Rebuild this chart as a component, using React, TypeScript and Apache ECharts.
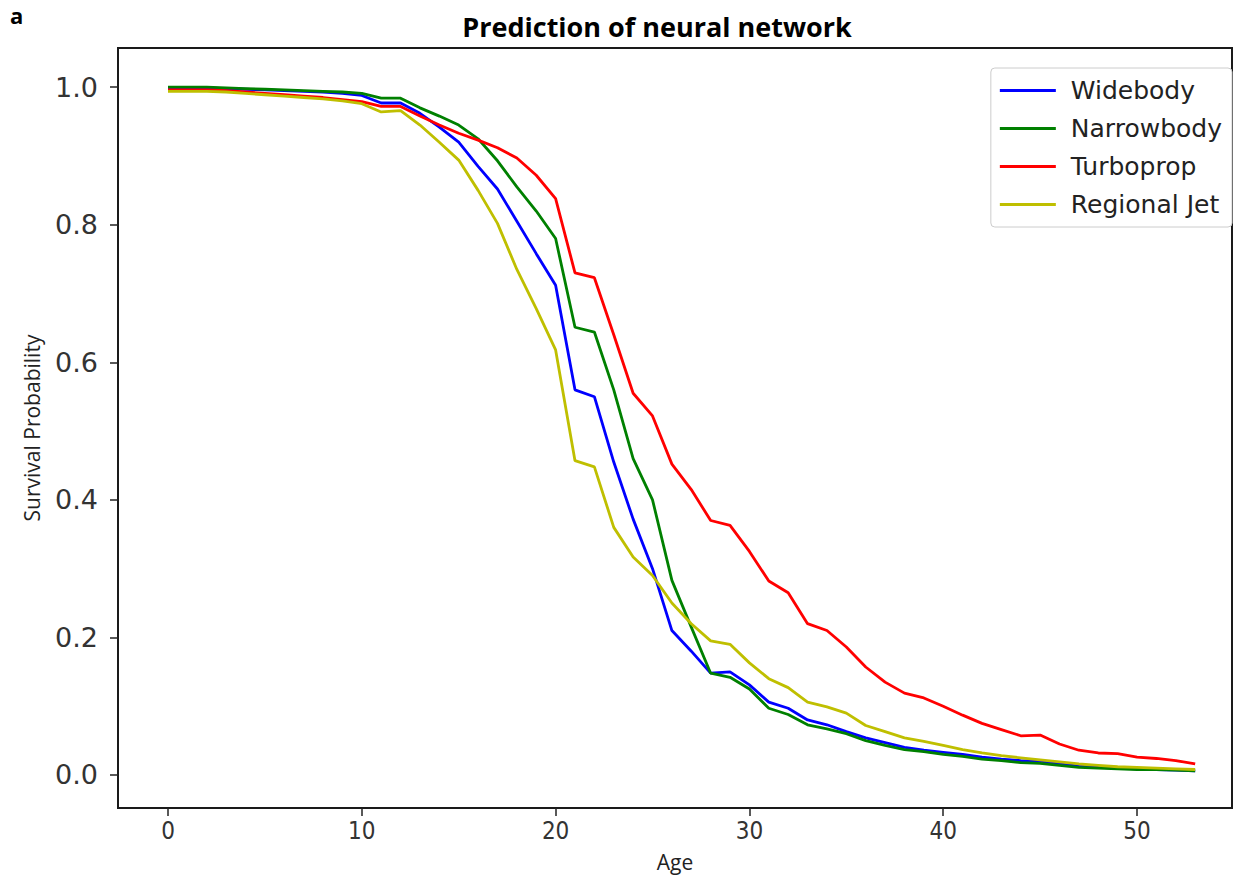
import React, { useEffect, useRef } from "react";
import * as echarts from "echarts";

const ages = [0,1,2,3,4,5,6,7,8,9,10,11,12,13,14,15,16,17,18,19,20,21,22,23,24,25,26,27,28,29,30,31,32,33,34,35,36,37,38,39,40,41,42,43,44,45,46,47,48,49,50,51,52,53];

const widebody = [0.999,0.999,0.999,0.998,0.997,0.996,0.995,0.994,0.993,0.991,0.988,0.977,0.977,
  0.962,0.942,0.920,0.885,0.852,0.805,0.758,0.712,
  0.560,0.550,0.455,0.372,0.300,0.210,0.180,0.148,0.150,0.131,
  0.106,0.097,0.080,0.073,0.063,0.054,0.047,0.040,0.036,0.033,
  0.030,0.026,0.023,0.021,0.020,0.016,0.013,0.011,0.010,0.009,0.008,0.007,0.006];

const narrowbody = [1.000,1.000,1.000,0.999,0.998,0.997,0.996,0.995,0.994,0.993,0.991,0.984,0.984,
  0.970,0.958,0.945,0.925,0.893,0.855,0.820,0.780,
  0.651,0.644,0.560,0.460,0.400,0.283,0.215,0.148,0.142,0.125,
  0.097,0.088,0.073,0.067,0.060,0.050,0.043,0.037,0.034,0.030,
  0.027,0.023,0.021,0.018,0.017,0.014,0.011,0.010,0.009,0.008,0.008,0.007,0.006];

const turboprop = [0.996,0.996,0.996,0.995,0.993,0.991,0.989,0.987,0.985,0.982,0.979,0.972,0.972,
  0.958,0.945,0.933,0.923,0.912,0.897,0.872,0.838,
  0.730,0.723,0.640,0.555,0.522,0.452,0.415,0.370,0.363,0.325,
  0.282,0.265,0.220,0.210,0.186,0.157,0.135,0.119,0.112,0.100,
  0.087,0.075,0.066,0.057,0.058,0.045,0.036,0.032,0.031,0.026,0.024,0.021,0.016];

const regionalJet = [0.994,0.994,0.994,0.993,0.991,0.989,0.987,0.985,0.983,0.980,0.976,0.964,0.966,
  0.945,0.920,0.894,0.850,0.802,0.735,0.678,0.618,
  0.457,0.448,0.360,0.317,0.290,0.250,0.220,0.195,0.190,0.163,
  0.140,0.127,0.106,0.099,0.090,0.072,0.063,0.054,0.049,0.043,
  0.037,0.032,0.028,0.025,0.022,0.019,0.016,0.014,0.012,0.011,0.010,0.009,0.008];

const seriesNames = ["Widebody", "Narrowbody", "Turboprop", "Regional Jet"];
const seriesColors = ["#0000ff", "#008000", "#ff0000", "#bfbf00"];
const xTicks = [0, 10, 20, 30, 40, 50];
const yTicks = [0, 0.2, 0.4, 0.6, 0.8, 1.0];

export default function App() {
  const ref = useRef<HTMLDivElement>(null);
  useEffect(() => {
    if (!ref.current) return;
    const chart = echarts.init(ref.current, undefined, { renderer: "svg" });
    const values = [widebody, narrowbody, turboprop, regionalJet];
    const tickFont = "'DejaVu Sans', sans-serif";
    chart.setOption({
      animation: false,
      backgroundColor: "#ffffff",
      grid: {
        left: 118,
        top: 48,
        right: 2,
        height: 760,
        show: true,
        borderColor: "#1a1a1a",
        borderWidth: 2,
        backgroundColor: "transparent",
      },
      graphic: [
        {
          type: "text",
          left: 10,
          top: 4,
          style: { text: "a", font: "bold 22px 'Open Sans', sans-serif", fill: "#000" },
        },
        {
          type: "text",
          x: 657,
          y: 26,
          style: {
            text: "Prediction of neural network",
            font: "bold 27px 'Open Sans', sans-serif",
            fill: "#000",
            textAlign: "center",
            textVerticalAlign: "middle",
          },
        },
      ],
      legend: {
        orient: "vertical",
        right: 2,
        top: 68,
        icon: "rect",
        itemWidth: 56,
        itemHeight: 3,
        itemGap: 9,
        padding: [8, 10, 8, 9],
        borderColor: "#cccccc",
        borderWidth: 1,
        borderRadius: 4,
        backgroundColor: "#ffffff",
        textStyle: { fontFamily: tickFont, fontSize: 25, color: "#222", lineHeight: 29, padding: [0, 0, 0, 10] },
        data: seriesNames,
      },
      xAxis: {
        type: "value",
        min: -2.58,
        max: 54.9,
        name: "Age",
        nameLocation: "middle",
        nameGap: 43,
        nameTextStyle: { fontFamily: "'Open Sans', sans-serif", fontSize: 21, color: "#222" },
        axisLine: { show: true, onZero: false, lineStyle: { color: "#1a1a1a", width: 2 } },
        axisTick: { show: true, length: 8, customValues: xTicks, lineStyle: { color: "#222", width: 1.5 } },
        axisLabel: {
          customValues: xTicks,
          fontFamily: "'Liberation Sans Narrow', 'DejaVu Sans Condensed', sans-serif",
          fontSize: 24,
          color: "#333",
          margin: 11,
        },
        splitLine: { show: false },
      },
      yAxis: {
        type: "value",
        min: -0.048,
        max: 1.057,
        name: "Survival Probability",
        nameLocation: "middle",
        nameGap: 76,
        nameTextStyle: { fontFamily: "'Open Sans', sans-serif", fontSize: 21, color: "#222" },
        axisLine: { show: true, onZero: false, lineStyle: { color: "#1a1a1a", width: 2 } },
        axisTick: { show: true, length: 8, customValues: yTicks, lineStyle: { color: "#222", width: 1.5 } },
        axisLabel: {
          customValues: yTicks,
          formatter: (v: number) => v.toFixed(1),
          fontFamily: tickFont,
          fontSize: 27,
          color: "#333",
          margin: 20,
        },
        splitLine: { show: false },
      },
      series: seriesNames.map((name, i) => ({
        name,
        type: "line",
        data: ages.map((a, j) => [a, values[i][j]]),
        showSymbol: false,
        symbol: "none",
        lineStyle: { color: seriesColors[i], width: 2.8 },
        itemStyle: { color: seriesColors[i] },
        z: 2 + i,
      })),
    });
    return () => chart.dispose();
  }, []);
  return (
    <div
      ref={ref}
      style={{ position: "fixed", left: 0, top: 0, width: 1234, height: 877, background: "#fff" }}
    />
  );
}
